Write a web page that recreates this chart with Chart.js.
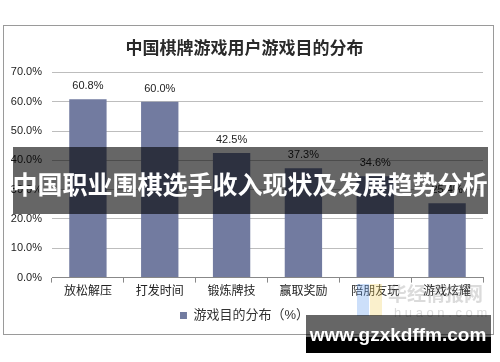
<!DOCTYPE html>
<html>
<head>
<meta charset="utf-8">
<script src="https://cdn.jsdelivr.net/npm/chart.js@4.4.1/dist/chart.umd.min.js"></script>
<style>
  html, body { margin: 0; padding: 0; background: #fff; }
  #wrap { width: 500px; height: 362px; position: relative; }
</style>
</head>
<body>
<div id="wrap"><canvas id="chart-purpose" width="500" height="362"></canvas></div>
<script>
const categories = ['放松解压', '打发时间', '锻炼牌技', '赢取奖励', '陪朋友玩', '游戏炫耀'];
const purposeShare = [60.8, 60.0, 42.5, 37.3, 34.6, 25.4];
const yTicks = [0, 10, 20, 30, 40, 50, 60, 70];

const chartTitle = '中国棋牌游戏用户游戏目的分布';
const seriesName = '游戏目的分布（%）';
const bannerText = '中国职业围棋选手收入现状及发展趋势分析';
const siteText = 'www.gzxkdffm.com';

const fontFamily = '"Liberation Sans", Arial, "Noto Sans CJK SC", sans-serif';

//Frame, value labels and overlays
const decorations = {
    id: 'decorations',
    beforeDraw(chart) {
        const c = chart.ctx;
        c.save();
        c.fillStyle = '#fff';
        c.fillRect(0, 0, chart.width, chart.height);
        c.strokeStyle = '#9a9a9a';
        c.lineWidth = 1;
        c.strokeRect(3.5, 25.5, 490, 309);
        c.restore();
    },
    afterDatasetsDraw(chart) {
        const c = chart.ctx;
        const meta = chart.getDatasetMeta(0);
        c.save();
        c.font = '11px ' + fontFamily;
        c.fillStyle = '#222';
        c.textAlign = 'center';
        c.textBaseline = 'middle';
        meta.data.forEach((bar, i) => {
            c.fillText(purposeShare[i].toFixed(1) + '%', bar.x, bar.y - 13);
        });
        c.restore();
    },
    afterDraw(chart) {
        const c = chart.ctx;
        c.save();
        // faint watermark
        c.globalAlpha = 0.35;
        c.fillStyle = '#6ea4f0';
        c.fillRect(357, 284, 12, 32);
        c.fillStyle = '#f0d46e';
        c.fillRect(370, 284, 12, 32);
        c.globalAlpha = 0.3;
        c.fillStyle = '#888';
        c.font = 'bold 19px "Noto Sans CJK SC", sans-serif';
        c.textAlign = 'left';
        c.textBaseline = 'middle';
        c.fillText('华经情报网', 388, 294);
        c.font = '13px ' + fontFamily;
        c.fillText('h u a o n . c o m', 394, 313);
        c.globalAlpha = 1;

        // banner across the middle
        c.fillStyle = 'rgba(0,0,0,0.6)';
        c.fillRect(13, 147, 475, 67);
        c.fillStyle = '#fff';
        c.font = 'bold 25px "Noto Sans CJK SC", sans-serif';
        c.textAlign = 'center';
        c.fillText(bannerText, 250, 184);

        // site strip
        c.fillStyle = 'rgba(0,0,0,0.6)';
        c.fillRect(306, 315, 185, 22);
        c.fillStyle = '#000';
        c.fillRect(306, 337, 185, 16);
        c.fillStyle = '#fff';
        c.font = 'bold 19px ' + fontFamily;
        c.fillText(siteText, 398, 336);
        c.restore();
    }
};

const ctx = document.getElementById('chart-purpose').getContext('2d');
const chartPurpose = new Chart(ctx, {
    type: 'bar',
    data: {
        labels: categories,
        datasets: [{
            label: seriesName,
            data: purposeShare,
            backgroundColor: '#727ba0',
            barPercentage: 0.52,
            categoryPercentage: 1
        }]
    },
    options: {
        responsive: false,
        animation: false,
        devicePixelRatio: 1,
        layout: {
            padding: { left: 6, right: 17, top: 37, bottom: 30 }
        },
        plugins: {
            title: {
                display: true,
                text: chartTitle,
                color: '#2a2a2a',
                font: { family: '"Noto Sans CJK SC", sans-serif', size: 17, weight: 'bold' },
                padding: { top: 0, bottom: 15 }
            },
            legend: {
                display: true,
                position: 'bottom',
                labels: {
                    boxWidth: 7,
                    boxHeight: 7,
                    color: '#333',
                    font: { family: fontFamily, size: 13 },
                    padding: 8
                }
            },
            tooltip: { enabled: false }
        },
        scales: {
            x: {
                grid: {
                    drawOnChartArea: false,
                    drawTicks: true,
                    tickLength: 5,
                    color: '#888'
                },
                border: { color: '#888' },
                ticks: {
                    color: '#222',
                    font: { family: fontFamily, size: 12 },
                    padding: 2,
                    maxRotation: 0
                }
            },
            y: {
                min: 0,
                max: 70,
                afterBuildTicks(scale) {
                    scale.ticks = yTicks.map(v => ({ value: v }));
                },
                afterFit(scale) {
                    scale.width = 46;
                },
                grid: {
                    color: '#bdbdbd',
                    drawTicks: false
                },
                border: { display: false },
                ticks: {
                    color: '#222',
                    font: { family: fontFamily, size: 11 },
                    padding: 10,
                    callback: v => v.toFixed(1) + '%'
                }
            }
        }
    },
    plugins: [decorations]
});
</script>
</body>
</html>
